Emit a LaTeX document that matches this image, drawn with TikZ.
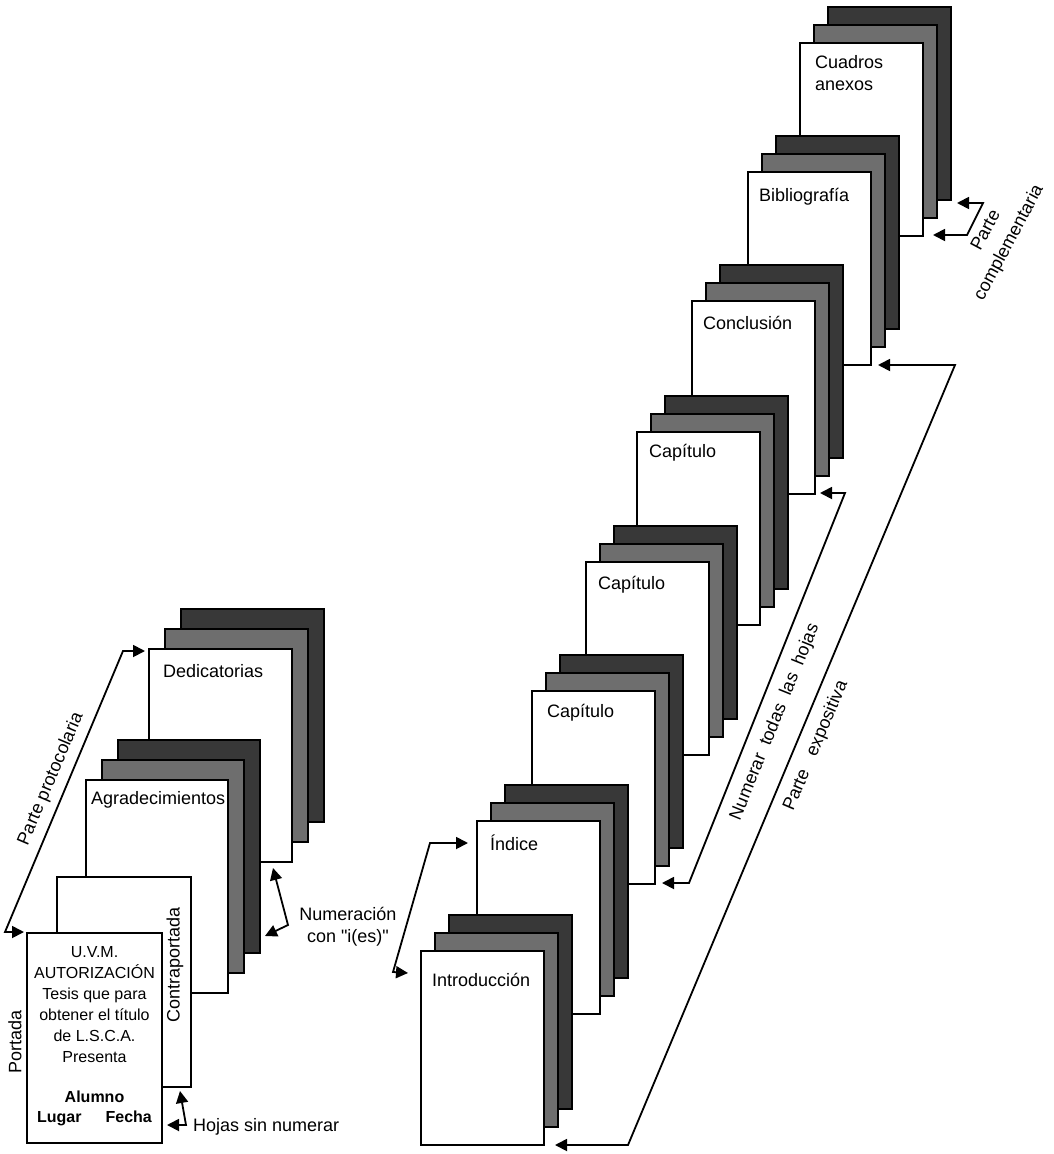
\documentclass[tikz,border=0pt]{standalone}
\usepackage{fontspec}
\setmainfont{Liberation Sans}[Ligatures=TeXOff]
\usetikzlibrary{arrows.meta}
\definecolor{sheetdark}{HTML}{383838}
\definecolor{sheetgray}{HTML}{6E6E6E}
\newcommand\mystack[7]{%
  \node[dsheet,minimum width=#4pt,minimum height=#5pt] (#1d) at ({#2+2*#6},{#3-2*#7}) {};
  \node[gsheet,minimum width=#4pt,minimum height=#5pt] (#1g) at ({#2+#6},{#3-#7}) {};
  \node[wsheet,minimum width=#4pt,minimum height=#5pt] (#1) at (#2,#3) {};}
\begin{document}
\begin{tikzpicture}[x=1pt,y=-1pt,
  sheet/.style={draw=black,line width=1.3pt,inner sep=0pt,outer sep=0pt,anchor=north west},
  wsheet/.style={sheet,fill=white},
  gsheet/.style={sheet,fill=sheetgray},
  dsheet/.style={sheet,fill=sheetdark},
  lbl/.style={font=\fontsize{18}{22}\selectfont,inner sep=0pt},
  conn/.style={line width=1.8pt,line join=miter,
    arrows={Triangle[length=12pt,width=12pt]-Triangle[length=12pt,width=12pt]}}]
\useasboundingbox (0,0) rectangle (1053,1154);

% ---------- right stacks (back to front) ----------
\mystack{cuad}{800}{43}{123}{193}{14}{18}
\mystack{bibl}{748}{172}{123}{193}{14}{18}
\mystack{concl}{692}{301}{123}{193}{14}{18}
\mystack{capC}{637}{432}{123}{193}{14}{18}
\mystack{capB}{586}{562}{123}{193}{14}{18}
\mystack{capA}{532}{691}{123}{193}{14}{18}
\mystack{indice}{477}{821}{123}{193}{14}{18}
\mystack{intro}{421}{951}{123}{194}{14}{18}

\node[lbl,anchor=west,align=left] (tcuad) at ([shift={(15,30)}]cuad.north west) {Cuadros\\anexos};
\node[lbl,anchor=west] (tbibl) at ([shift={(11,25)}]bibl.north west) {Bibliografía};
\node[lbl,anchor=west] (tconcl) at ([shift={(11,22)}]concl.north west) {Conclusión};
\node[lbl,anchor=west] (tcapC) at ([shift={(12,21)}]capC.north west) {Capítulo};
\node[lbl,anchor=west] (tcapB) at ([shift={(12,23)}]capB.north west) {Capítulo};
\node[lbl,anchor=west] (tcapA) at ([shift={(15,22)}]capA.north west) {Capítulo};
\node[lbl,anchor=west] (tindice) at ([shift={(13,22)}]indice.north west) {Índice};
\node[lbl,anchor=west] (tintro) at ([shift={(11,29)}]intro.north west) {Introducción};

% ---------- left stacks (back to front) ----------
\mystack{dedic}{149}{649}{143}{213}{16}{20}
\mystack{agrad}{86}{780}{142}{213}{16}{20}
\node[wsheet,minimum width=134pt,minimum height=210pt] (contra) at (57,877) {};
\node[wsheet,minimum width=135pt,minimum height=210pt] (portada) at (27,933) {};

\node[lbl,anchor=west] (tdedic) at ([shift={(14,22)}]dedic.north west) {Dedicatorias};
\node[lbl,anchor=west] (tagrad) at ([shift={(5,20)}]agrad.north west) {Agradecimientos};
\node[lbl,rotate=90] (tcontra) at (175,965) {Contraportada};
\node[lbl,rotate=90] (tportada) at (15,1042) {Portada};
\node[align=center,inner sep=0pt,font=\fontsize{16}{21}\selectfont] (ptxt) at (94.5,1004.5)
  {U.V.M.\\AUTORIZACIÓN\\Tesis que para\\obtener el título\\de L.S.C.A.\\Presenta};
\node[align=center,inner sep=0pt,font=\fontsize{16}{20}\selectfont\bfseries] (pfoot) at (94.5,1108)
  {Alumno\\Lugar\hspace{1.5em}Fecha};

% ---------- labels ----------
\node[lbl,rotate=67] (lproto) at (51,779) {Parte protocolaria};
\node[lbl,align=center] (lnum) at (348,927) {Numeración\\con "i(es)"};
\node[lbl,anchor=west] (lhojas) at (193,1127) {Hojas sin numerar};
\node[lbl,rotate=68] (lnumerar) at (775,722) {Numerar\ \ todas\ \ las\ \ hojas};
\node[lbl,rotate=67] (lexpo) at (816,746) {Parte\hspace{0.9em}expositiva};
\node[lbl,rotate=62,align=center,font=\fontsize{18}{26}\selectfont] (lcompl) at (998,237) {Parte\\complementaria};

% ---------- connectors ----------
\coordinate (ppB) at (5,932);
\coordinate (ppC) at (123,651);
\draw[conn] ([shift={(-3,-1)}]portada.north west) -- (ppB) -- (ppC) -- ([shift={(-4,2)}]dedic.north west);

\coordinate (nmA) at (273,868);
\coordinate (nmC) at (288,925);
\coordinate (nmB) at (265,936);
\draw[conn] (nmA) -- (nmC) -- (nmB);

\coordinate (hsA) at (180,1091);
\coordinate (hsC) at (186,1125);
\coordinate (hsB) at (167,1125);
\draw[conn] (hsA) -- (hsC) -- (hsB);

\coordinate (ixA) at (408,973);
\coordinate (ixB) at (393,972);
\coordinate (ixC) at (430,843);
\coordinate (ixD) at (468,843);
\draw[conn] (ixA) -- (ixB) -- (ixC) -- (ixD);

\coordinate (nuA) at (662,883);
\coordinate (nuB) at (689,883);
\coordinate (nuC) at (845,493);
\coordinate (nuD) at (820,493);
\draw[conn] (nuA) -- (nuB) -- (nuC) -- (nuD);

\coordinate (exA) at (555,1145);
\coordinate (exB) at (628,1145);
\coordinate (exC) at (955,365);
\coordinate (exD) at (878,365);
\draw[conn] (exA) -- (exB) -- (exC) -- (exD);

\coordinate (coA) at (957,203);
\coordinate (coB) at (983,203);
\coordinate (coC) at (967,235);
\coordinate (coD) at (933,235);
\draw[conn] (coA) -- (coB) -- (coC) -- (coD);
\end{tikzpicture}
\end{document}
